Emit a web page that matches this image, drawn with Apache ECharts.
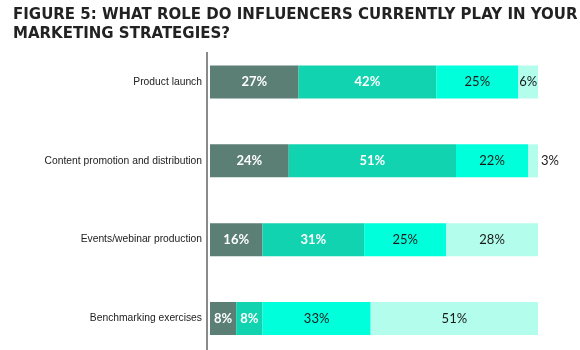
<!DOCTYPE html>
<html><head><meta charset="utf-8">
<script src="https://cdn.jsdelivr.net/npm/echarts@6/dist/echarts.min.js"></script>
<style>html,body{margin:0;padding:0;background:#fff;overflow:hidden}#c{width:580px;height:370px}</style>
</head><body><div id="c"></div>
<script>
var categories = ["Product launch", "Content promotion and distribution", "Events/webinar production", "Benchmarking exercises"];
var seriesA = [27, 24, 16, 8];
var seriesB = [42, 51, 31, 8];
var seriesC = [25, 22, 25, 33];
var seriesD = [6, 3, 28, 51];
var titleLines = ["FIGURE 5: WHAT ROLE DO INFLUENCERS CURRENTLY PLAY IN YOUR", "MARKETING STRATEGIES?"];

var colors = ["#5b7f74", "#12d3b0", "#00ffdb", "#b2fdeb"];
var labelColors = ["#ffffff", "#ffffff", "#1a1a1a", "#1a1a1a"];
var labelWeights = ["bold", "bold", "normal", "normal"];

function mk(vals, i) {
  return {
    type: 'bar', stack: 'all', barWidth: 33,
    itemStyle: { color: colors[i] },
    label: { show: true, position: 'inside', formatter: '{c}%', color: labelColors[i], fontWeight: labelWeights[i], fontSize: 13, fontFamily: 'Lato, "Open Sans", sans-serif' },
    data: vals.map(function (v) {
      if (v < 5) return { value: v, label: { position: 'right', distance: 3, color: '#1a1a1a', fontWeight: 'normal' } };
      return v;
    })
  };
}

var chart = echarts.init(document.getElementById('c'), null, { renderer: 'canvas' });
chart.setOption({
  animation: false,
  title: {
    text: titleLines.join('\n'), left: 8, top: 1,
    textStyle: { fontFamily: '"DejaVu Sans", sans-serif', fontWeight: 'bold', fontSize: 15, color: '#222', lineHeight: 19 }
  },
  grid: { left: 210, top: 42.6, width: 328, height: 315.3, containLabel: false },
  xAxis: { type: 'value', min: 0, max: 100, show: false },
  yAxis: {
    type: 'category', data: categories, inverse: true,
    axisLine: { show: false }, axisTick: { show: false },
    axisLabel: { margin: 8, fontSize: 10.3, color: '#222', fontFamily: '"Liberation Sans", Arial, sans-serif' }
  },
  graphic: [{ type: 'line', shape: { x1: 207, y1: 52, x2: 207, y2: 360 }, style: { stroke: '#8a8a8a', lineWidth: 2 } }],
  series: [mk(seriesA, 0), mk(seriesB, 1), mk(seriesC, 2), mk(seriesD, 3)]
});
</script></body></html>
